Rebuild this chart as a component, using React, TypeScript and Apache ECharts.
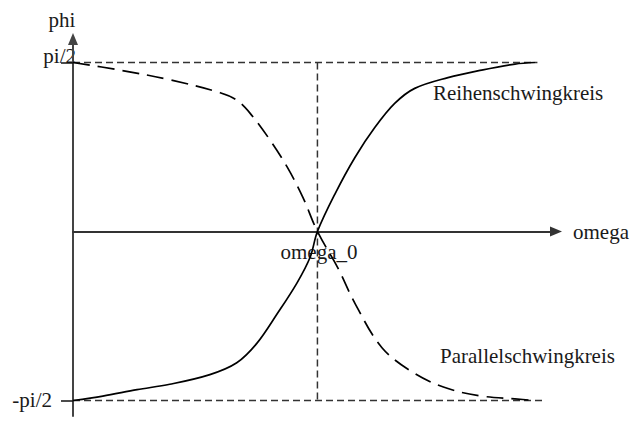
import React, { useEffect, useRef } from "react";
import * as echarts from "echarts";

const HALF_PI = Math.PI / 2;

// Reihenschwingkreis (solid curve)
const reihenOmega = [0, 0.61, 1.31, 1.98, 2.8, 3.35, 3.76, 4.17, 4.58, 4.85, 5.0, 5.36, 5.77, 6.18, 6.58, 6.99, 7.67, 8.36, 9.04, 9.45];
const reihenPhi = [-1.5708, -1.53, -1.47, -1.42, -1.33, -1.22, -1.04, -0.77, -0.48, -0.24, 0, 0.35, 0.69, 0.97, 1.19, 1.33, 1.43, 1.5, 1.556, 1.5708];

// Parallelschwingkreis (dashed curve)
const parallelOmega = [0, 0.96, 1.98, 3.01, 3.35, 3.62, 4.03, 4.38, 4.7, 5.0, 5.42, 5.77, 6.32, 6.99, 7.67, 8.36, 9.04, 9.45];
const parallelPhi = [1.5708, 1.5, 1.41, 1.29, 1.22, 1.1, 0.85, 0.6, 0.32, 0, -0.34, -0.67, -1.08, -1.32, -1.46, -1.53, -1.556, -1.5708];

// guide values
const omega0 = 5.0;
const topGuideEnd = 9.5;
const bottomGuideEnd = 9.6;
const xMax = 9.88;
const yMax = 1.789;
const yMin = -1.715;

// texts
const tickLabels = ["pi/2", "-pi/2"];
const tickValues = [HALF_PI, -HALF_PI];
const xName = "omega";
const yName = "phi";
const omega0Label = "omega_0";
const seriesNames = ["Reihenschwingkreis", "Parallelschwingkreis"];

const FONT = "'Liberation Serif', 'Times New Roman', serif";
const TXT = { fontFamily: FONT, fontSize: 21, fill: "#1a1a1a" };

export default function App() {
  const ref = useRef<HTMLDivElement>(null);
  useEffect(() => {
    if (!ref.current) return;
    const chart = echarts.init(ref.current, null, { renderer: "svg" });
    const zip = (a: number[], b: number[]) => a.map((v, i) => [v, b[i]]);
    const guideStyle = { color: "#333", width: 1.5, type: [7, 4] as number[] };
    chart.setOption({
      animation: false,
      backgroundColor: "#ffffff",
      grid: { left: 73, right: 74, top: 39, bottom: 5 },
      xAxis: {
        type: "value",
        min: 0,
        max: xMax,
        axisLine: {
          onZero: true,
          symbol: ["none", "triangle"],
          symbolSize: [10, 12],
          lineStyle: { color: "#333", width: 2 },
        },
        axisTick: { show: false },
        axisLabel: { show: false },
        splitLine: { show: false },
      },
      yAxis: {
        type: "value",
        min: yMin,
        max: yMax,
        axisLine: {
          show: true,
          onZero: false,
          symbol: ["none", "triangle"],
          symbolSize: [10, 12],
          lineStyle: { color: "#444", width: 2 },
        },
        axisTick: {
          show: true,
          customValues: tickValues,
          length: 12,
          lineStyle: { color: "#111", width: 1.5 },
        },
        axisLabel: { show: false },
        splitLine: { show: false },
      },
      series: [
        {
          type: "line",
          name: "topGuide",
          data: [[0, HALF_PI], [topGuideEnd, HALF_PI]],
          showSymbol: false,
          lineStyle: guideStyle,
          z: 1,
        },
        {
          type: "line",
          name: "bottomGuide",
          data: [[0, -HALF_PI], [bottomGuideEnd, -HALF_PI]],
          showSymbol: false,
          lineStyle: guideStyle,
          z: 1,
        },
        {
          type: "line",
          name: "omega0Guide",
          data: [[omega0, HALF_PI], [omega0, -HALF_PI]],
          showSymbol: false,
          lineStyle: guideStyle,
          z: 1,
        },
        {
          type: "line",
          name: seriesNames[0],
          data: zip(reihenOmega, reihenPhi),
          showSymbol: false,
          smooth: 0.35,
          lineStyle: { color: "#000", width: 1.7 },
          z: 3,
        },
        {
          type: "line",
          name: seriesNames[1],
          data: zip(parallelOmega, parallelPhi),
          showSymbol: false,
          smooth: 0.35,
          lineStyle: { color: "#000", width: 1.7, type: [17, 8] },
          z: 3,
        },
      ],
      graphic: [
        { type: "text", x: 62, y: 20, style: { ...TXT, text: yName, align: "center", verticalAlign: "middle" } },
        { type: "text", x: 76, y: 56, style: { ...TXT, text: tickLabels[0], align: "right", verticalAlign: "middle" } },
        { type: "text", x: 52, y: 400, style: { ...TXT, text: tickLabels[1], align: "right", verticalAlign: "middle" } },
        { type: "text", x: 573, y: 232, style: { ...TXT, text: xName, align: "left", verticalAlign: "middle" } },
        { type: "text", x: 319, y: 252, style: { ...TXT, text: omega0Label, align: "center", verticalAlign: "middle" } },
        { type: "text", x: 433, y: 93, style: { ...TXT, text: seriesNames[0], align: "left", verticalAlign: "middle" } },
        { type: "text", x: 440, y: 356, style: { ...TXT, text: seriesNames[1], align: "left", verticalAlign: "middle" } },
      ],
    });
    return () => chart.dispose();
  }, []);
  return (
    <div
      ref={ref}
      style={{ position: "fixed", left: 0, top: 0, width: 630, height: 421, background: "#fff" }}
    />
  );
}
